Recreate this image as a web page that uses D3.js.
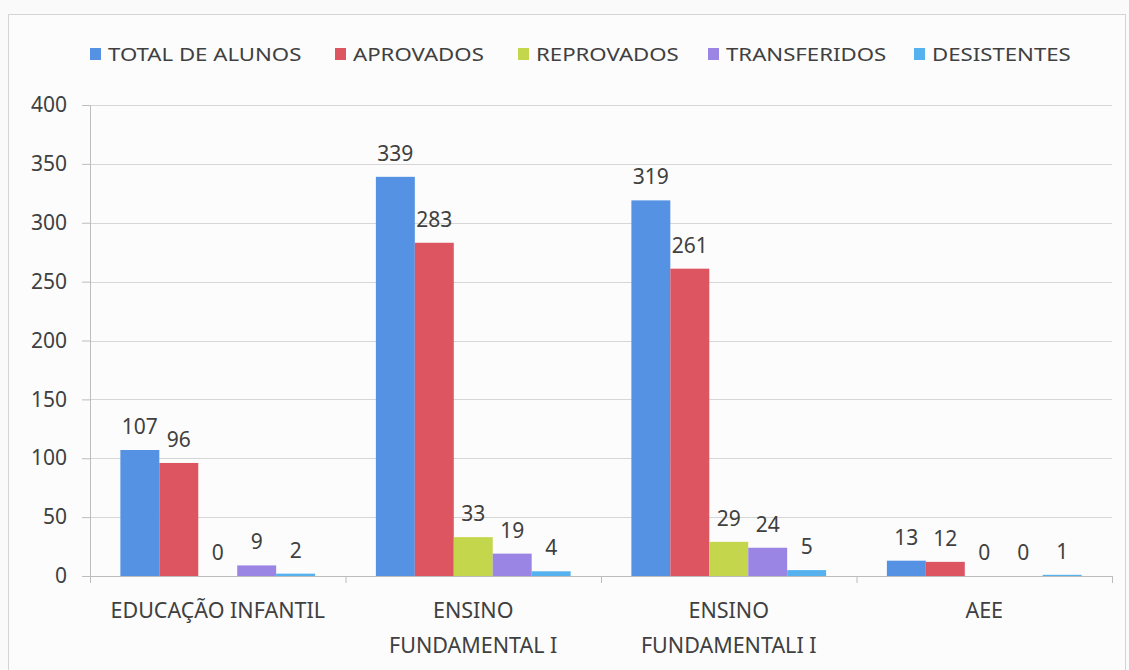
<!DOCTYPE html>
<html>
<head>
<meta charset="utf-8">
<script src="https://cdn.jsdelivr.net/npm/d3@7"></script>
<style>
  body { margin: 0; background: #fafafa; }
  svg { display: block; font-family: "Noto Sans", "Open Sans", sans-serif; }
</style>
</head>
<body>
<div id="chart"></div>
<script>
const categories = ['EDUCAÇÃO INFANTIL', 'ENSINO|FUNDAMENTAL I', 'ENSINO|FUNDAMENTALI I', 'AEE'];
const seriesNames = ['TOTAL DE ALUNOS', 'APROVADOS', 'REPROVADOS', 'TRANSFERIDOS', 'DESISTENTES'];
const seriesColors = ['#5592e4', '#dc5560', '#c4d64c', '#9b85e4', '#55b2ee'];
const totalAlunos = [107, 339, 319, 13];
const aprovados = [96, 283, 261, 12];
const reprovados = [0, 33, 29, 0];
const transferidos = [9, 19, 24, 0];
const desistentes = [2, 4, 5, 1];
const yTicks = [0, 50, 100, 150, 200, 250, 300, 350, 400];

const seriesValues = [totalAlunos, aprovados, reprovados, transferidos, desistentes];

const width = 1129, height = 670;
const margin = {left: 90, right: 17, top: 105, bottom: 94};
const textColor = '#404040';

const svg = d3.select('#chart').append('svg')
    .attr('width', width)
    .attr('height', height);

// chart frame
svg.append('rect')
    .attr('x', 8.5).attr('y', 14.5)
    .attr('width', width - 12).attr('height', height - 8)
    .attr('fill', '#fcfcfc')
    .attr('stroke', '#d4d4d4');

const x = d3.scaleBand()
    .domain(categories)
    .range([margin.left, width - margin.right]);

const xInner = d3.scaleBand()
    .domain(seriesNames)
    .range([0, x.bandwidth()])
    .paddingOuter(0.78)
    .paddingInner(0);

const y = d3.scaleLinear()
    .domain([0, 400])
    .range([height - margin.bottom, margin.top]);

// gridlines
svg.append('g')
    .selectAll('line')
    .data(yTicks.slice(1))
    .join('line')
    .attr('x1', margin.left)
    .attr('x2', width - margin.right)
    .attr('y1', d => Math.round(y(d)) + 0.5)
    .attr('y2', d => Math.round(y(d)) + 0.5)
    .attr('stroke', '#d6d6d6');

// y axis
const yAxis = svg.append('g')
    .attr('transform', `translate(${margin.left},0)`)
    .call(d3.axisLeft(y).tickValues(yTicks).tickSize(8).tickPadding(15));
yAxis.select('.domain').attr('stroke', '#bdbdbd');
yAxis.selectAll('.tick line').attr('stroke', '#bdbdbd');
yAxis.selectAll('.tick text')
    .attr('font-size', 21)
    .attr('fill', textColor)
    .attr('font-family', '"Noto Sans", sans-serif');

// bars
const groups = svg.append('g')
    .selectAll('g')
    .data(categories)
    .join('g')
    .attr('transform', d => `translate(${x(d)},0)`);

groups.selectAll('rect')
    .data((d, i) => seriesNames.map((s, j) => ({s, v: seriesValues[j][i], c: seriesColors[j]})))
    .join('rect')
    .attr('x', d => xInner(d.s))
    .attr('width', xInner.bandwidth())
    .attr('y', d => y(d.v))
    .attr('height', d => y(0) - y(d.v))
    .attr('fill', d => d.c);

groups.selectAll('text')
    .data((d, i) => seriesNames.map((s, j) => ({s, v: seriesValues[j][i]})))
    .join('text')
    .attr('x', d => xInner(d.s) + xInner.bandwidth() / 2)
    .attr('y', d => y(d.v) - 16)
    .attr('text-anchor', 'middle')
    .attr('font-size', 21)
    .attr('fill', textColor)
    .text(d => d.v);

// x axis
const xAxis = svg.append('g')
    .attr('transform', `translate(0,${y(0)})`)
    .call(d3.axisBottom(x).tickSize(0).tickFormat(''));
xAxis.select('.domain').attr('stroke', '#bdbdbd');

svg.append('g')
    .selectAll('line')
    .data(x.domain().map(d => x(d)).concat([x.range()[1]]))
    .join('line')
    .attr('x1', d => d + 0.5).attr('x2', d => d + 0.5)
    .attr('y1', y(0)).attr('y2', y(0) + 7)
    .attr('stroke', '#bdbdbd');

const xLabels = svg.append('g')
    .selectAll('text')
    .data(categories)
    .join('text')
    .attr('x', d => x(d) + x.bandwidth() / 2)
    .attr('y', y(0) + 42)
    .attr('text-anchor', 'middle')
    .attr('font-size', 21.5)
    .attr('fill', textColor);

xLabels.selectAll('tspan')
    .data(d => d.split('|'))
    .join('tspan')
    .attr('x', function() { return this.parentNode.getAttribute('x'); })
    .attr('dy', (d, i) => i === 0 ? 0 : 35)
    .text(d => d);

// legend
const legendX = [90, 335, 518, 708, 914];
const legend = svg.append('g')
    .selectAll('g')
    .data(seriesNames)
    .join('g')
    .attr('transform', (d, i) => `translate(${legendX[i]},48)`);

legend.append('rect')
    .attr('width', 11).attr('height', 12)
    .attr('fill', (d, i) => seriesColors[i]);

legend.append('text')
    .attr('transform', 'translate(18,13) scale(1.2,1)')
    .attr('font-size', 18.5)
    .attr('fill', textColor)
    .text(d => d);
</script>
</body>
</html>
